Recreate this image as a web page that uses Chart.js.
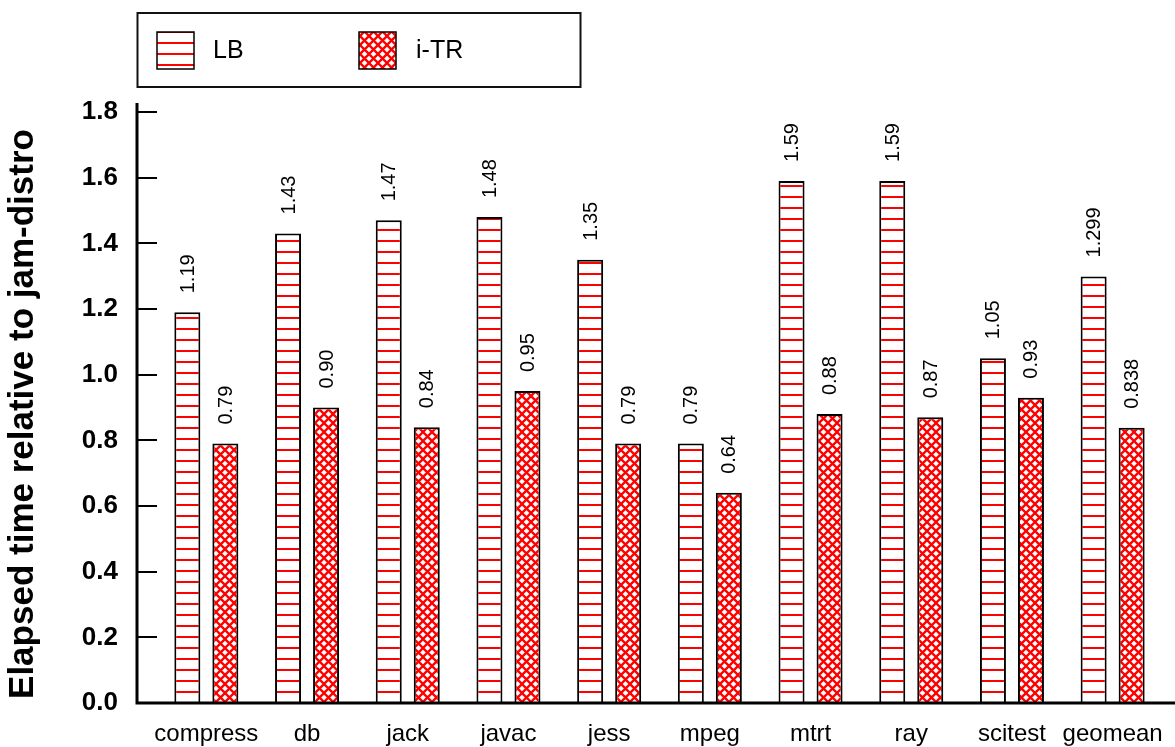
<!DOCTYPE html>
<html>
<head>
<meta charset="utf-8">
<script src="https://cdn.jsdelivr.net/npm/chart.js@4/dist/chart.umd.min.js"></script>
<style>
  body { margin: 0; background: #fff; }
  canvas { display: block; }
</style>
</head>
<body>
<canvas id="chart" width="1175" height="747"></canvas>
<script>
// data
const categories = ["compress", "db", "jack", "javac", "jess", "mpeg", "mtrt", "ray", "scitest", "geomean"];
const lbValues = [1.19, 1.43, 1.47, 1.48, 1.35, 0.79, 1.59, 1.59, 1.05, 1.299];
const itrValues = [0.79, 0.90, 0.84, 0.95, 0.79, 0.64, 0.88, 0.87, 0.93, 0.838];
const seriesNames = ["LB", "i-TR"];
const yMin = 0, yMax = 1.8, yStep = 0.2;
const yTitle = "Elapsed time relative to jam-distro";

const FONT = "'Liberation Sans', Arial, sans-serif";

// red horizontal stripes
function makeStripes() {
    const c = document.createElement("canvas");
    c.width = 10; c.height = 11;
    const g = c.getContext("2d");
    g.fillStyle = "#fff";
    g.fillRect(0, 0, 10, 11);
    g.fillStyle = "#ff0000";
    g.fillRect(0, 9, 10, 2);
    return g.createPattern(c, "repeat");
}

// red cross hatch
function makeCross() {
    const s = 9;
    const c = document.createElement("canvas");
    c.width = s; c.height = s;
    const g = c.getContext("2d");
    g.fillStyle = "#fff";
    g.fillRect(0, 0, s, s);
    g.strokeStyle = "#ff0000";
    g.lineWidth = 2.3;
    g.beginPath();
    g.moveTo(-1, -1); g.lineTo(s + 1, s + 1);
    g.moveTo(-1, s + 1); g.lineTo(s + 1, -1);
    g.stroke();
    return g.createPattern(c, "repeat");
}

const stripes = makeStripes();
const cross = makeCross();

// value text like 0.90 / 1.299
const fmt = (v) => {
    const dec = (String(v).split(".")[1] || "").length;
    return v.toFixed(Math.max(2, dec));
};

// axes, ticks, value labels, legend box, y title
const decor = {
    id: "decor",
    afterDraw(chart) {
        const ctx = chart.ctx;
        const y = chart.scales.y;
        ctx.save();
        ctx.strokeStyle = "#000";
        ctx.lineWidth = 3;
        ctx.beginPath();
        ctx.moveTo(137, 103);
        ctx.lineTo(137, 704.5);
        ctx.moveTo(135.5, 703);
        ctx.lineTo(1175, 703);
        ctx.stroke();

        ctx.lineWidth = 2;
        for (let v = yMin; v <= yMax + 1e-9; v += yStep) {
            const py = Math.round(y.getPixelForValue(v));
            ctx.beginPath();
            ctx.moveTo(137, py);
            ctx.lineTo(157, py);
            ctx.stroke();
        }

        // value labels, rotated
        ctx.fillStyle = "#000";
        ctx.font = "20px " + FONT;
        ctx.textAlign = "left";
        ctx.textBaseline = "middle";
        chart.data.datasets.forEach((ds, i) => {
            chart.getDatasetMeta(i).data.forEach((bar, j) => {
                ctx.save();
                ctx.translate(bar.x + 1, bar.y - 19);
                ctx.rotate(-Math.PI / 2);
                ctx.fillText(fmt(ds.data[j]), 0, 0);
                ctx.restore();
            });
        });

        // y title
        ctx.save();
        ctx.font = "bold 35px " + FONT;
        ctx.textAlign = "center";
        ctx.textBaseline = "alphabetic";
        ctx.translate(33, 414);
        ctx.rotate(-Math.PI / 2);
        ctx.fillText(yTitle, 0, 0);
        ctx.restore();

        // legend
        ctx.lineWidth = 2;
        ctx.strokeStyle = "#111";
        ctx.strokeRect(137.5, 13, 443, 74);
        const items = [
            { x: 157, fill: stripes, textX: 213 },
            { x: 359, fill: cross, textX: 416 }
        ];
        ctx.font = "25px " + FONT;
        ctx.textBaseline = "middle";
        items.forEach((it, k) => {
            ctx.fillStyle = it.fill;
            ctx.fillRect(it.x, 32, 37, 37);
            ctx.lineWidth = 1.5;
            ctx.strokeStyle = "#000";
            ctx.strokeRect(it.x, 32, 37, 37);
            ctx.fillStyle = "#000";
            ctx.fillText(seriesNames[k], it.textX, 51);
        });
        ctx.restore();
    }
};

Chart.defaults.color = "#000";
Chart.defaults.font.family = FONT;

new Chart(document.getElementById("chart").getContext("2d"), {
    type: "bar",
    data: {
        labels: categories,
        datasets: [
            {
                label: seriesNames[0],
                data: lbValues,
                backgroundColor: stripes,
                borderColor: "#000",
                borderWidth: 2,
                categoryPercentage: 0.755,
                barPercentage: 0.684
            },
            {
                label: seriesNames[1],
                data: itrValues,
                backgroundColor: cross,
                borderColor: "#000",
                borderWidth: 2,
                categoryPercentage: 0.755,
                barPercentage: 0.684
            }
        ]
    },
    options: {
        responsive: false,
        animation: false,
        layout: { padding: { left: 0, top: 112, right: 12, bottom: 0 } },
        plugins: {
            legend: { display: false },
            tooltip: { enabled: false }
        },
        scales: {
            x: {
                grid: { display: false, drawTicks: false },
                border: { display: false },
                ticks: { font: { size: 24 }, padding: 17, maxRotation: 0, autoSkip: false },
                afterFit(scale) {
                    scale.height = 44;
                    scale.paddingLeft = 0;
                    scale.paddingRight = 0;
                }
            },
            y: {
                min: yMin,
                max: yMax,
                grid: { display: false, drawTicks: false },
                border: { display: false },
                ticks: {
                    stepSize: yStep,
                    padding: 38,
                    font: { size: 26, weight: "bold" },
                    callback: (v) => v.toFixed(1)
                },
                afterFit(scale) {
                    scale.width = 156;
                    scale.paddingTop = 0;
                    scale.paddingBottom = 0;
                }
            }
        }
    },
    plugins: [decor]
});
</script>
</body>
</html>
